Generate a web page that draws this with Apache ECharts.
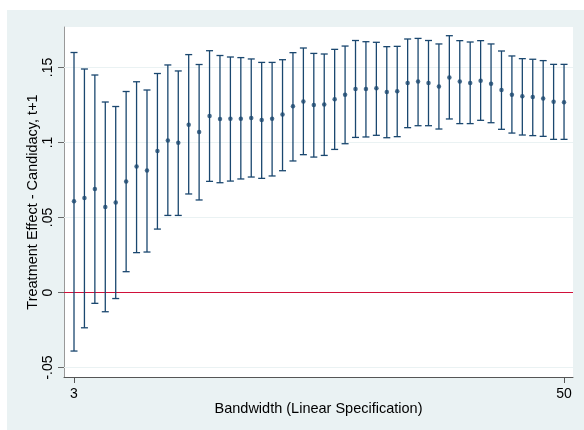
<!DOCTYPE html>
<html><head><meta charset="utf-8">
<script src="https://cdn.jsdelivr.net/npm/echarts@6/dist/echarts.min.js"></script>
<style>html,body{margin:0;padding:0;background:#fff;}#c{position:absolute;left:7px;top:10px;width:577px;height:420px;}</style>
</head><body><div id="c"></div>
<script>
const bandwidth = [3,4,5,6,7,8,9,10,11,12,13,14,15,16,17,18,19,20,21,22,23,24,25,26,27,28,29,30,31,32,33,34,35,36,37,38,39,40,41,42,43,44,45,46,47,48,49,50];
const estimate = [0.0608,0.063,0.069,0.057,0.060,0.074,0.084,0.0814,0.0943,0.1014,0.0999,0.1119,0.107,0.1177,0.1157,0.1159,0.1159,0.1163,0.115,0.1159,0.1186,0.1241,0.1274,0.125,0.1254,0.1288,0.1319,0.1357,0.1357,0.1361,0.1337,0.1341,0.1397,0.1406,0.1397,0.1374,0.1434,0.1406,0.1397,0.1412,0.1392,0.135,0.1319,0.1308,0.1303,0.1294,0.1272,0.1268];
const upper = [0.160,0.149,0.145,0.127,0.124,0.134,0.1405,0.135,0.146,0.1517,0.1477,0.1586,0.152,0.1612,0.158,0.157,0.1566,0.1557,0.1534,0.1534,0.1552,0.1599,0.163,0.1594,0.159,0.1621,0.1643,0.168,0.1672,0.1668,0.1639,0.1641,0.169,0.1694,0.168,0.1657,0.1712,0.1679,0.167,0.1679,0.1657,0.161,0.1577,0.1559,0.1555,0.1546,0.1521,0.1521];
const lower = [-0.039,-0.0235,-0.0072,-0.0128,-0.004,0.0139,0.0266,0.027,0.0423,0.0514,0.0514,0.0657,0.0617,0.0741,0.0732,0.0743,0.0757,0.077,0.0761,0.0777,0.0812,0.0877,0.0919,0.0903,0.0914,0.0954,0.0992,0.1034,0.1037,0.1048,0.1032,0.1039,0.1099,0.1112,0.1112,0.109,0.1157,0.1126,0.1126,0.1148,0.1132,0.1088,0.1063,0.105,0.1046,0.1041,0.1021,0.1021];
const yTicks = [-0.05, 0, 0.05, 0.1, 0.15];
const yTickLabels = ['-.05', '0', '.05', '.1', '.15'];
const xTicks = [3, 50];

const navy = '#1a476f';
const chart = echarts.init(document.getElementById('c'));
const fmtY = v => { const i = yTicks.findIndex(t => Math.abs(t - v) < 1e-9); return i >= 0 ? yTickLabels[i] : ''; };
chart.setOption({
  backgroundColor: '#eaf2f3',
  animation: false,
  textStyle: { fontFamily: 'Liberation Sans, Arial, sans-serif' },
  grid: { left: 57, top: 17, right: 11, bottom: 53, show: true, backgroundColor: '#ffffff', borderWidth: 0 },
  xAxis: {
    type: 'value', min: 2.04, max: 50.86,
    name: 'Bandwidth (Linear Specification)', nameLocation: 'middle', nameGap: 24,
    nameMoveOverlap: false,
    nameTextStyle: { fontSize: 14.5, color: '#000' },
    axisLine: { onZero: false, lineStyle: { color: '#555', width: 1 } },
    axisTick: { show: true, length: 6, customValues: xTicks, lineStyle: { color: '#555' } },
    axisLabel: { customValues: xTicks, fontSize: 14, color: '#000', margin: 10 },
    splitLine: { show: false }
  },
  yAxis: {
    type: 'value', min: -0.0563, max: 0.177,
    name: 'Treatment Effect - Candidacy, t+1', nameLocation: 'middle', nameGap: 24,
    nameMoveOverlap: false,
    nameTextStyle: { fontSize: 14.5, color: '#000' },
    axisLine: { show: true, lineStyle: { color: '#999', width: 1 } },
    axisTick: { show: true, length: 6, customValues: yTicks, lineStyle: { color: '#666' } },
    axisLabel: { customValues: yTicks, rotate: 90, fontSize: 14, color: '#000', margin: 9, formatter: fmtY },
    splitLine: { show: false }
  },
  series: [
    {
      type: 'line', data: [], silent: true,
      markLine: {
        silent: true, symbol: 'none', label: { show: false },
        lineStyle: { color: '#eaf2f3', width: 1, type: 'solid' },
        data: yTicks.map(v => ({ yAxis: v }))
      }
    },
    {
      type: 'line', data: [], silent: true, z: 5,
      markLine: {
        silent: true, symbol: 'none', label: { show: false },
        lineStyle: { color: '#d0103a', width: 1.2, type: 'solid' },
        data: [{ yAxis: 0 }]
      }
    },
    {
      type: 'custom', z: 10,
      data: bandwidth.map((b, i) => [b, lower[i], upper[i]]),
      renderItem: (params, api) => {
        const x = api.value(0);
        const lo = api.coord([x, api.value(1)]);
        const hi = api.coord([x, api.value(2)]);
        const hw = 3.5;
        const st = { stroke: navy, lineWidth: 1.3 };
        return { type: 'group', children: [
          { type: 'line', shape: { x1: lo[0], y1: lo[1], x2: hi[0], y2: hi[1] }, style: st },
          { type: 'line', shape: { x1: hi[0] - hw, y1: hi[1], x2: hi[0] + hw, y2: hi[1] }, style: st },
          { type: 'line', shape: { x1: lo[0] - hw, y1: lo[1], x2: lo[0] + hw, y2: lo[1] }, style: st }
        ]};
      }
    },
    {
      type: 'scatter', z: 11, symbol: 'circle', symbolSize: 4.5,
      itemStyle: { color: navy },
      data: bandwidth.map((b, i) => [b, estimate[i]])
    }
  ]
});
</script></body></html>
